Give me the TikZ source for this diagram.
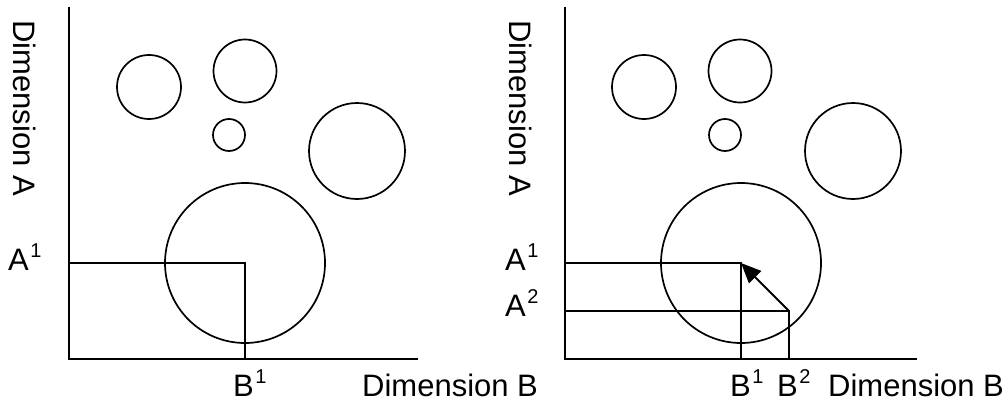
\documentclass[tikz,border=0pt]{standalone}
\usepackage{fontspec}
\setmainfont{Liberation Sans}
\usetikzlibrary{arrows.meta}
\newcommand\mysup[1]{\kern1.5pt\raisebox{13pt}{\fontsize{20}{20}\selectfont #1}}
\begin{document}
\begin{tikzpicture}[x=1pt,y=-1pt,
  bubble/.style={circle,draw,line width=1.7pt,inner sep=0pt},
  axis/.style={line width=2.3pt},
  guide/.style={line width=2.1pt},
  lbl/.style={font=\fontsize{31}{36}\selectfont,inner sep=0pt,anchor=base west}]
\useasboundingbox (0,0) rectangle (1008,404);
% ---------- left panel ----------
\coordinate (LO) at (69,359);
\coordinate (LT) at (69,7);
\coordinate (LR) at (418,359);
\draw[axis] (LT) -- (LO) -- (LR);
\node[bubble,minimum size=64pt] (l1) at (149,87) {};
\node[bubble,minimum size=63pt] (l2) at (245,71) {};
\node[bubble,minimum size=32pt] (l3) at (229,135) {};
\node[bubble,minimum size=96pt] (l4) at (357,151) {};
\node[bubble,minimum size=160pt] (l5) at (245,263) {};
\coordinate (lA1) at (69,263);
\coordinate (lB1) at (245,359);
\draw[guide] (lA1) -- (l5.center) -- (lB1);
\node[lbl,rotate=-90,anchor=center] (ldA) at (25,108) {Dimension A};
\node[lbl] (lla1) at (8,270) {A\mysup{1}};
\node[lbl] (llb1) at (233,396) {B\mysup{1}};
\node[lbl] (ldB) at (362,396) {Dimension B};
% ---------- right panel ----------
\coordinate (RO) at (565,359);
\coordinate (RT) at (565,7);
\coordinate (RR) at (917,359);
\draw[axis] (RT) -- (RO) -- (RR);
\node[bubble,minimum size=64pt] (r1) at (644,87) {};
\node[bubble,minimum size=63pt] (r2) at (740,71) {};
\node[bubble,minimum size=32pt] (r3) at (725,135) {};
\node[bubble,minimum size=96pt] (r4) at (853,151) {};
\node[bubble,minimum size=160pt] (r5) at (741,263) {};
\coordinate (rA1) at (565,263);
\coordinate (rB1) at (741,359);
\coordinate (rP2) at (789,311);
\coordinate (rA2) at (565,311);
\coordinate (rB2) at (789,359);
\draw[guide] (rA1) -- (r5.center) -- (rB1);
\draw[guide] (rA2) -- (rP2) -- (rB2);
\draw[guide,-{Triangle[length=20pt,width=17pt]}] (rP2) -- (r5.center);
\node[lbl,rotate=-90,anchor=center] (rdA) at (521,108) {Dimension A};
\node[lbl] (rla1) at (505,270) {A\mysup{1}};
\node[lbl] (rla2) at (505,316) {A\mysup{2}};
\node[lbl] (rlb1) at (730,396) {B\mysup{1}};
\node[lbl] (rlb2) at (777,396) {B\mysup{2}};
\node[lbl] (rdB) at (828,396) {Dimension B};
\end{tikzpicture}
\end{document}
